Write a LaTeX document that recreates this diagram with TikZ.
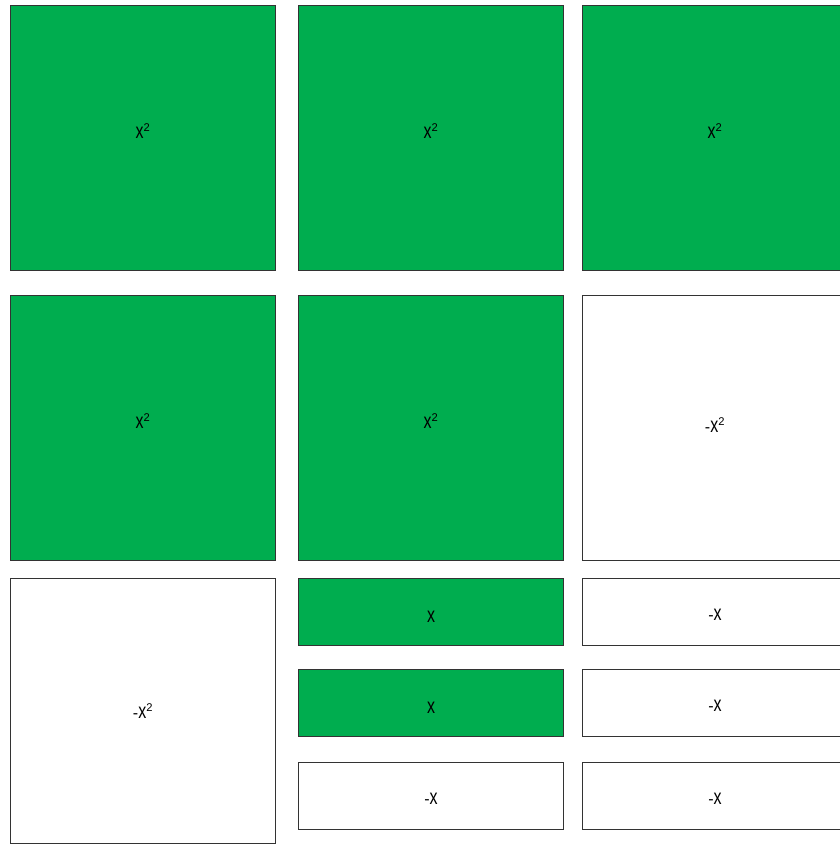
\documentclass[tikz,border=0pt]{standalone}
\usepackage{fontspec}
\usepackage{graphicx}
\setmainfont{Liberation Sans}
\usetikzlibrary{positioning}
\definecolor{tilegreen}{RGB}{0,173,79}
\newcommand{\tallx}[1]{\scalebox{1}[1.35]{#1}}
\newcommand{\xsq}{\tallx{x}\textsuperscript{2}}

\begin{document}
\begin{tikzpicture}[x=1pt,y=-1pt]
\tikzset{
  tile/.style={draw=black!80,line width=1pt,inner sep=0pt,anchor=north west},
  sqtile/.style={tile,minimum width=265pt,minimum height=265pt},
  bartile/.style={tile,minimum width=265pt,minimum height=66.5pt},
  plustile/.style={fill=tilegreen},
  minustile/.style={fill=white},
  tag/.style={inner sep=0pt,font=\fontsize{16}{18}\selectfont}}
\fill[white] (0,0) rectangle (840,844);
\useasboundingbox[clip] (0,0) rectangle (840,844);
% squares
\node[sqtile,plustile,label={[tag,yshift=7pt]center:\xsq}] (a1) at (10,5) {};
\node[sqtile,plustile,label={[tag,yshift=7pt]center:\xsq}] (a2) at (298,5) {};
\node[sqtile,plustile,label={[tag,yshift=7pt]center:\xsq}] (a3) at (582,5) {};
\node[sqtile,plustile,label={[tag,yshift=7pt]center:\xsq}] (b1) at (10,295) {};
\node[sqtile,plustile,label={[tag,yshift=7pt]center:\xsq}] (b2) at (298,295) {};
\node[sqtile,minustile,label={[tag,yshift=3pt]center:-\xsq}] (b3) at (582,295) {};
\node[sqtile,minustile,label={[tag,yshift=0pt]center:-\xsq}] (c1) at (10,578) {};
% bars
\node[bartile,plustile,label={[tag,yshift=-5pt]center:\tallx{x}}] (c2) at (298,578) {};
\node[bartile,plustile,label={[tag,yshift=-5pt]center:\tallx{x}}] (d2) at (298,669) {};
\node[bartile,minustile,label={[tag,yshift=-3pt]center:-\tallx{x}}] (e2) at (298,762) {};
\node[bartile,minustile,label={[tag,yshift=-3pt]center:-\tallx{x}}] (c3) at (582,578) {};
\node[bartile,minustile,label={[tag,yshift=-3pt]center:-\tallx{x}}] (d3) at (582,669) {};
\node[bartile,minustile,label={[tag,yshift=-3pt]center:-\tallx{x}}] (e3) at (582,762) {};
\end{tikzpicture}
\end{document}
